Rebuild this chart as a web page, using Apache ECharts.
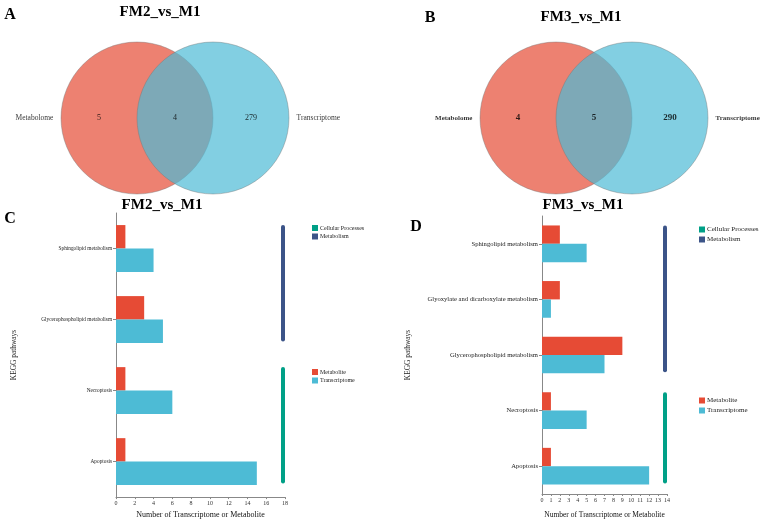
<!DOCTYPE html>
<html>
<head>
<meta charset="utf-8">
<script src="https://cdn.jsdelivr.net/npm/echarts@6/dist/echarts.min.js"></script>
<style>
html, body { margin: 0; padding: 0; background: #fff; }
#main { width: 763px; height: 524px; }
</style>
</head>
<body>
<div id="main"></div>
<script>
// venn sets and region counts: [only metabolome, shared, only transcriptome]
var vennSets = ['Metabolome', 'Transcriptome'];
var vennA = [5, 4, 279];
var vennB = [4, 5, 290];

// KEGG pathways FM2_vs_M1
var pathwaysC = ['Sphingolipid metabolism', 'Glycerophospholipid metabolism', 'Necroptosis', 'Apoptosis'];
var metaboliteC = [1, 3, 1, 1];
var transcriptomeC = [4, 5, 6, 15];
var classesC = [['Metabolism', 0, 1], ['Cellular Processes', 2, 3]];
var xTicksC = [0, 18, 2]; // min, max, step

// KEGG pathways FM3_vs_M1
var pathwaysD = ['Sphingolipid metabolism', 'Glyoxylate and dicarboxylate metabolism', 'Glycerophospholipid metabolism', 'Necroptosis', 'Apoptosis'];
var metaboliteD = [2, 2, 9, 1, 1];
var transcriptomeD = [5, 1, 7, 5, 12];
var classesD = [['Metabolism', 0, 2], ['Cellular Processes', 3, 4]];
var xTicksD = [0, 14, 1];

var SERIF = '"Liberation Serif", "Times New Roman", serif';
var RED = '#E64B35', CYAN = '#4DBBD5', GREEN = '#00A087', NAVY = '#3C5488';
var classColor = {'Metabolism': NAVY, 'Cellular Processes': GREEN};

var myChart = echarts.init(document.getElementById('main'), null, {renderer: 'canvas'});

// circle drawn through the grid scale, radius of 1 x-unit
function vennCircle(params, api) {
    var c = api.coord([api.value(0), 0]);
    var r = api.size([1, 0])[0];
    return {
        type: 'circle',
        shape: {cx: c[0], cy: c[1], r: r},
        style: {fill: api.visual('color'), opacity: 0.7, stroke: '#777', lineWidth: 0.6}
    };
}

function vennSeries(idx, counts, bold) {
    var w = bold ? 'bold' : 'normal';
    return [
        {
            type: 'custom', xAxisIndex: idx, yAxisIndex: idx, silent: true,
            renderItem: vennCircle, itemStyle: {color: RED}, data: [[-0.5, 0]]
        },
        {
            type: 'custom', xAxisIndex: idx, yAxisIndex: idx, silent: true,
            renderItem: vennCircle, itemStyle: {color: CYAN}, data: [[0.5, 0]]
        },
        {
            type: 'scatter', xAxisIndex: idx, yAxisIndex: idx, symbolSize: 0, silent: true,
            label: {
                show: true, position: 'inside', color: '#000',
                fontFamily: SERIF, fontSize: bold ? 9 : 8, fontWeight: w,
                formatter: function (p) { return p.value[2]; }
            },
            data: [[-1, 0, counts[0]], [0, 0, counts[1]], [1, 0, counts[2]]]
        },
        {
            type: 'scatter', xAxisIndex: idx, yAxisIndex: idx, symbolSize: 0, silent: true,
            label: {
                show: true, color: '#000', fontFamily: SERIF, fontSize: bold ? 7 : 7.5, fontWeight: w,
                formatter: function (p) { return p.value[2]; }
            },
            data: [
                {value: [-1.6, 0, vennSets[0]], label: {position: 'left', distance: 0}},
                {value: [1.6, 0, vennSets[1]], label: {position: 'right', distance: 0}}
            ]
        }
    ];
}

// class bracket at the right edge of the plot
function classBar(params, api) {
    var cs = params.coordSys;
    var band = api.size([0, 1])[1];
    var y0 = api.coord([0, api.value(0)])[1];
    var y1 = api.coord([0, api.value(1)])[1];
    var top = Math.min(y0, y1) - band / 2 + band * 0.17 + 2;
    var bottom = Math.max(y0, y1) + band / 2 - band * 0.19 - 2;
    var x = cs.x + cs.width - 2;
    return {
        type: 'line',
        shape: {x1: x, y1: top, x2: x, y2: bottom},
        style: {stroke: api.visual('color'), lineWidth: 4, lineCap: 'round'}
    };
}

function barSeries(idx, metab, trans, classes) {
    var list = [
        {name: 'Metabolite', type: 'bar', xAxisIndex: idx, yAxisIndex: idx, barWidth: '33%', barGap: '0%',
            itemStyle: {color: RED}, data: metab},
        {name: 'Transcriptome', type: 'bar', xAxisIndex: idx, yAxisIndex: idx, barWidth: '33%', barGap: '0%',
            itemStyle: {color: CYAN}, data: trans}
    ];
    classes.forEach(function (c) {
        list.push({
            name: c[0], type: 'custom', xAxisIndex: idx, yAxisIndex: idx, silent: true,
            renderItem: classBar, itemStyle: {color: classColor[c[0]]},
            encode: {x: -1, y: [0, 1]},
            data: [[c[1], c[2]]]
        });
    });
    return list;
}

function vennX(idx) {
    return {gridIndex: idx, type: 'value', min: -2, max: 2, show: false};
}
function vennY(idx) {
    return {gridIndex: idx, type: 'value', min: -1, max: 1, show: false};
}

function barX(idx, ticks, nameSize, nameGap) {
    return {
        gridIndex: idx, type: 'value', min: ticks[0], max: ticks[1], interval: ticks[2],
        axisLine: {show: true, lineStyle: {color: '#888', width: 1}},
        axisTick: {show: true, length: 2, lineStyle: {color: '#888'}},
        axisLabel: {fontSize: 6, margin: 3, color: '#333', fontFamily: SERIF},
        splitLine: {show: false},
        name: 'Number of Transcriptome or Metabolite', nameLocation: 'middle', nameGap: nameGap,
        nameTextStyle: {fontSize: nameSize, color: '#111', fontFamily: SERIF}
    };
}
function barY(idx, cats, labelSize, nameGap) {
    return {
        gridIndex: idx, type: 'category', data: cats, inverse: true,
        axisLine: {show: true, lineStyle: {color: '#888', width: 1}},
        axisTick: {show: true, alignWithLabel: true, length: 3, lineStyle: {color: '#888'}},
        axisLabel: {fontSize: labelSize, margin: 4, color: '#222', fontFamily: SERIF},
        name: 'KEGG pathways', nameLocation: 'middle', nameGap: nameGap, nameRotate: 90,
        nameTextStyle: {fontSize: 7.4, color: '#222', fontFamily: SERIF}
    };
}

function legend(data, left, top, size, gap) {
    return {
        data: data, orient: 'vertical', left: left, top: top, padding: 0,
        icon: 'rect', itemWidth: 6, itemHeight: 6, itemGap: gap, selectedMode: false,
        textStyle: {fontSize: size, color: '#222', fontFamily: SERIF, padding: [0, 0, 0, -3]}
    };
}

function label(text, x, y, size) {
    return {
        type: 'text', x: x, y: y,
        style: {text: text, font: 'bold ' + size + 'px ' + SERIF, fill: '#000',
            textAlign: 'center', textVerticalAlign: 'middle'}
    };
}

option = {
    animation: false,
    backgroundColor: '#fff',
    grid: [
        {left: 23, top: 43, width: 304, height: 150},
        {left: 442, top: 43, width: 304, height: 150},
        {left: 116, top: 213, width: 169, height: 288},
        {left: 542, top: 216, width: 125, height: 282}
    ],
    xAxis: [vennX(0), vennX(1), barX(2, xTicksC, 8, 12), barX(3, xTicksD, 7.5, 17)],
    yAxis: [vennY(0), vennY(1), barY(2, pathwaysC, 5.3, 98), barY(3, pathwaysD, 6.6, 130)],
    legend: [
        legend(['Cellular Processes', 'Metabolism'], 312, 225, 6, 2.5),
        legend(['Metabolite', 'Transcriptome'], 312, 369, 6, 2.5),
        legend(['Cellular Processes', 'Metabolism'], 699, 226, 7, 3),
        legend(['Metabolite', 'Transcriptome'], 699, 397, 7, 3)
    ],
    graphic: [
        label('A', 10, 15, 16),
        label('FM2_vs_M1', 160, 12, 15),
        label('B', 430, 18, 16),
        label('FM3_vs_M1', 581, 17, 15),
        label('C', 10, 219, 16),
        label('FM2_vs_M1', 162, 205, 15),
        label('D', 416, 227, 16),
        label('FM3_vs_M1', 583, 205, 15)
    ],
    series: [].concat(
        vennSeries(0, vennA, false),
        vennSeries(1, vennB, true),
        barSeries(2, metaboliteC, transcriptomeC, classesC),
        barSeries(3, metaboliteD, transcriptomeD, classesD)
    )
};

myChart.setOption(option);
</script>
</body>
</html>
